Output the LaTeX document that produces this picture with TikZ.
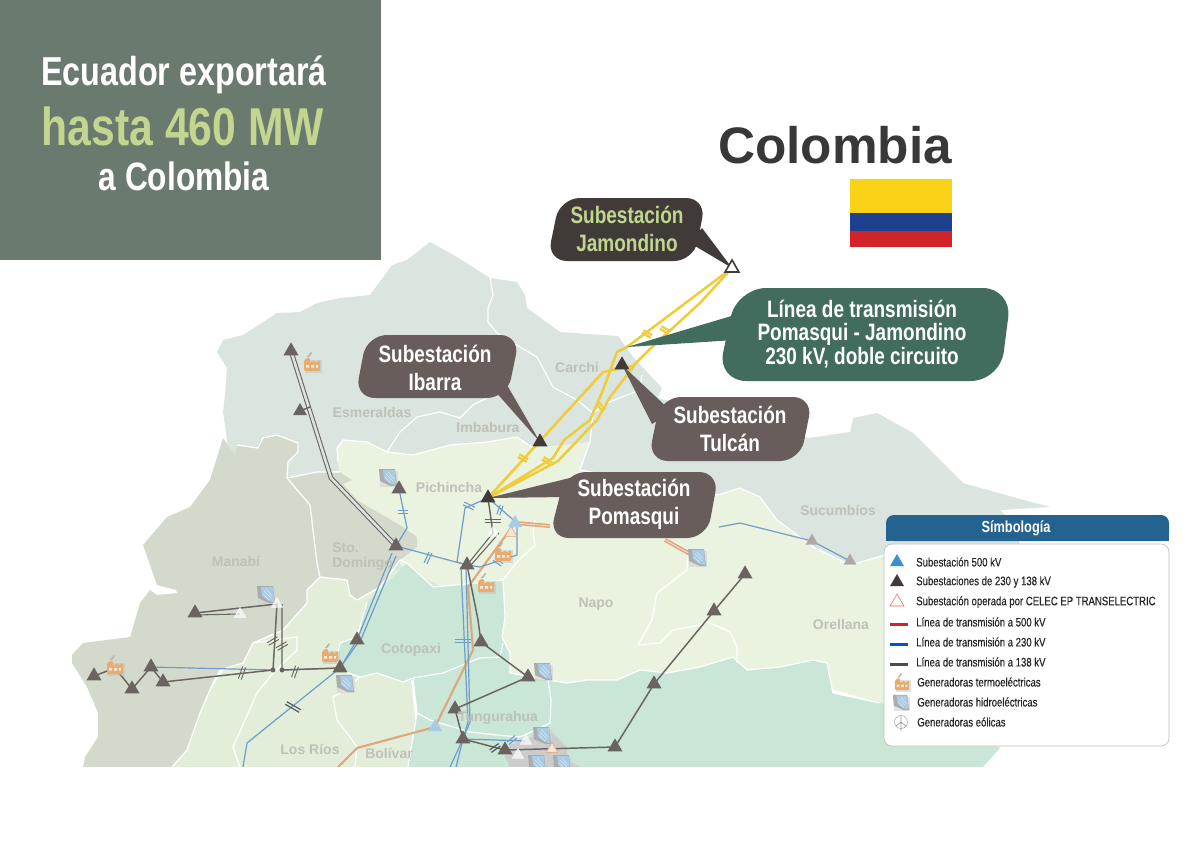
\documentclass[tikz,border=0pt]{standalone}
\usepackage{fontspec}
\usetikzlibrary{shapes.geometric,calc}
\setmainfont{Liberation Sans}
\newfontfamily\cond[FakeStretch=0.8]{Liberation Sans}
\newfontfamily\legf[FakeStretch=0.78,FakeBold=0.35]{Liberation Sans}
\pgfdeclarelayer{maplayer}\pgfdeclarelayer{linelayer}
\pgfsetlayers{maplayer,linelayer,main}
\definecolor{titlebg}{HTML}{6B7A6F}
\definecolor{titlegreen}{HTML}{C2D68F}
\definecolor{calloutgray}{HTML}{695D5B}
\definecolor{calloutdark}{HTML}{403B39}
\definecolor{calloutteal}{HTML}{416C5E}
\definecolor{northc}{HTML}{DBE5DF}
\definecolor{sierrac}{HTML}{EAF3E0}
\definecolor{tealc}{HTML}{C9E6D6}
\definecolor{manabic}{HTML}{D4DACB}
\definecolor{coastc}{HTML}{E3EEDA}
\definecolor{bluel}{HTML}{6F9CC8}
\definecolor{orangel}{HTML}{E0A67C}
\definecolor{grayl}{HTML}{6B6360}
\definecolor{yellowl}{HTML}{F0CB3A}
\definecolor{maplabel}{HTML}{BDC1B8}
\definecolor{legblue}{HTML}{24628F}
\definecolor{flagy}{HTML}{F9D117}
\definecolor{flagb}{HTML}{1F3F8F}
\definecolor{flagr}{HTML}{D2232A}
\definecolor{hydrob}{HTML}{A9CBE3}
\definecolor{thermc}{HTML}{E8AB72}
\tikzset{
  x=0.75pt,y=-0.75pt,
  tribase/.style={regular polygon,regular polygon sides=3,inner sep=0pt,minimum size=13pt},
  subgray/.style={tribase,fill=grayl},
  subdark/.style={tribase,fill=calloutdark},
  sublight/.style={tribase,minimum size=10pt,fill=white,draw=white,fill opacity=.7,draw opacity=.7},
  subpale/.style={tribase,minimum size=10pt,fill=white!70!orangel,draw=orangel},
  subblue/.style={tribase,fill=hydrob,minimum size=12pt},
  subfade/.style={tribase,fill=grayl!55,minimum size=11pt},
  maptext/.style={font=\bfseries\fontsize{10.5}{12}\selectfont,text=maplabel,inner sep=0pt},
  calltext/.style={font=\cond\bfseries\fontsize{17.8}{21}\selectfont,text=white,align=center,inner sep=0pt},
  legtext/.style={font=\legf\fontsize{9.2}{11}\selectfont,text=black!85,anchor=west,inner sep=0pt},
  border/.style={draw=white,line width=0.9pt,line join=round},
  blueline/.style={draw=bluel,line width=0.9pt,line join=round},
  grayline/.style={draw=grayl,line width=1.1pt,line join=round},
  grayd/.style={draw=grayl,line width=.8pt,line join=round},
  oline/.style={draw=orangel,line width=1.6pt,line join=round},
  yline/.style={draw=yellowl,line width=1.9pt,line join=round},
  thermal/.pic={
    \fill[black!25,opacity=.45] (-7,-2) rectangle (10,11);
    \fill[thermc,rounded corners=.8] (-8,-2) -- (-8,9) -- (8,9) -- (8,-2) -- (3,1) -- (3,-2) -- (-2,1) -- (-2,-4) -- (-6,-4) -- (-6,-2) -- cycle;
    \fill[white!75!thermc] (-6,3) rectangle (-3,5.5) (-1,3) rectangle (2,5.5) (4,3) rectangle (6,5.5);
    \fill[gray!60] (-5,-5) -- (-1,-10) -- (0,-9) -- (-3,-5) -- cycle;
  },
  hydro/.pic={
    \fill[black!18,opacity=.6] (-8,-6) rectangle (10,10);
    \fill[gray!65] (-9,-8) -- (7,-8) -- (9,9) -- (3,9) -- (-8,4) -- cycle;
    \fill[hydrob] (-5,-7) -- (7,-7) -- (8,8) -- (3,7) -- (-4,2) -- cycle;
    \draw[white!60!hydrob,line width=.35pt] (-2,-3) -- (5,4) (0,-5) -- (6,2) (-3,0) -- (3,6);
  }
}
\newcommand{\hsh}[6]{\begin{scope}[shift={(#1,#2)},rotate=#3]
  \draw[#5,line width=#6] (-#4/2,-1.5) -- (#4/2,-1.5) (-#4/2,1.5) -- (#4/2,1.5);
\end{scope}}
\begin{document}
\begin{tikzpicture}
\useasboundingbox (0,0) rectangle (1192,842);
% --- substations
\node[subgray] (a1) at (291,351) {};
\node[subgray,minimum size=12pt] (a2) at (300,411) {};
\node[subgray] (a3) at (399,489) {};
\node[subgray] (sto) at (396,546) {};
\node[subgray] (m1) at (195,613) {};
\node[subgray] (c1) at (357,640) {};
\node[subgray] (qv) at (340,668) {};
\node[subgray] (w1) at (94,676) {};
\node[subgray] (w2) at (132,689) {};
\node[subgray] (w3) at (151,667) {};
\node[subgray] (w4) at (163,682) {};
\node[subgray] (sr) at (467,565) {};
\node[subgray] (n1) at (481,642) {};
\node[subgray] (n2) at (528,677) {};
\node[subgray] (n3) at (455,709) {};
\node[subgray] (n4) at (463,739) {};
\node[subgray] (n5) at (505,750) {};
\node[subgray] (e1) at (615,747) {};
\node[subgray] (e2) at (654,684) {};
\node[subgray] (e3) at (714,611) {};
\node[subgray] (e4) at (745,574) {};
\node[subfade] (s1) at (812,541) {};
\node[subfade] (s2) at (850,561) {};
\node[sublight] (l1) at (240,614) {};
\node[sublight] (l2) at (277,604) {};
\node[sublight] (l3) at (493,533) {};
\node[subpale] (l4) at (511,533) {};
\node[sublight] (l5) at (526,741) {};
\node[sublight] (l6) at (518,755) {};
\node[subpale] (l7) at (552,749) {};
\node[subblue] (b1) at (515,523) {};
\node[subblue] (b2) at (435,727) {};
\node[subdark] (pom) at (488,498) {};
\node[subdark] (iba) at (540,442) {};
\node[subdark] (tul) at (622,365) {};
\node[tribase,draw=calloutdark,line width=1.2pt,fill=white,minimum size=12pt] (jam) at (732,268) {};
% --- free junctions
\coordinate (j1) at (273,670);
\coordinate (j2) at (282,670);
\node[circle,fill=grayl,inner sep=1.3pt] (d1) at (j1) {};
\node[circle,fill=grayl,inner sep=1.3pt] (d2) at (j2) {};
\begin{pgfonlayer}{maplayer}
  % north and Sucumbios
  \fill[northc] (217,352) -- (223,340) -- (243,335) -- (277,313) -- (300,312) -- (317,303) -- (340,298) -- (370,295) -- (392,265) -- (407,260) -- (430,242) -- (457,257) -- (490,278) -- (517,282) -- (525,295) -- (527,308) -- (560,332) -- (618,336) -- (633,357) -- (662,388) -- (658,398) -- (808,438) -- (850,432) -- (853,418) -- (877,413) -- (913,433) -- (940,460) -- (963,483) -- (1013,497) -- (1050,507) -- (1000,510) -- (1010,520) -- (1020,545) -- (1040,600) -- (850,600) -- (400,600) -- (230,470) -- (227,440) -- (223,412) -- (225,395) -- (227,368) -- cycle;
  % coast base
  \fill[coastc] (243,640) -- (320,570) -- (400,570) -- (420,767) -- (160,767) -- cycle;
  % sierra, Napo, Orellana
  \fill[sierrac] (338,462) -- (337,448) -- (343,440) -- (367,442) -- (387,452) -- (413,455) -- (450,445) -- (487,442) -- (517,437) -- (533,448) -- (590,442) -- (580,470) -- (718,495) -- (740,488) -- (760,497) -- (777,520) -- (813,547) -- (850,565) -- (885,555) -- (1040,560) -- (1060,650) -- (1000,748) -- (880,703) -- (800,680) -- (520,690) -- (470,600) -- (407,570) -- (360,530) -- (340,480) -- cycle;
  % south green
  \fill[tealc] (407,563) -- (433,587) -- (477,583) -- (503,580) -- (505,617) -- (502,637) -- (510,653) -- (510,673) -- (548,680) -- (567,683) -- (587,680) -- (617,680) -- (640,670) -- (667,673) -- (700,667) -- (733,657) -- (747,670) -- (780,667) -- (813,660) -- (827,663) -- (833,693) -- (880,703) -- (1000,748) -- (983,767) -- (408,767) -- (417,713) -- (413,680) -- (403,682) -- (377,673) -- (360,677) -- (340,670) -- (337,660) -- (340,643) -- (357,637) -- (367,602) -- (380,590) -- cycle;
  % Manabi, Sto Domingo
  \fill[manabic] (223,438) -- (235,455) -- (237,445) -- (258,448) -- (263,438) -- (277,435) -- (298,443) -- (298,452) -- (288,462) -- (287,478) -- (317,472) -- (340,472) -- (352,480) -- (343,484) -- (357,500) -- (403,527) -- (417,537) -- (417,547) -- (400,560) -- (380,587) -- (357,600) -- (350,595) -- (347,580) -- (320,577) -- (307,590) -- (307,603) -- (283,630) -- (253,643) -- (243,663) -- (220,670) -- (213,683) -- (200,713) -- (187,750) -- (172,767) -- (83,767) -- (85,757) -- (98,737) -- (98,713) -- (87,687) -- (72,663) -- (72,655) -- (83,643) -- (130,637) -- (140,603) -- (150,590) -- (157,595) -- (177,593) -- (176,590) -- (157,585) -- (143,545) -- (167,517) -- (190,507) -- (210,480) -- cycle;
  % grey patch
  \fill[black!20] (505,757) -- (510,745) -- (543,733) -- (553,733) -- (567,747) -- (567,760) -- (580,767) -- (510,767) -- cycle;
  % white province borders
  \draw[border] (338,462) -- (337,448) -- (343,440) -- (367,442) -- (387,452) -- (413,455) -- (450,445) -- (487,442) -- (517,437) -- (533,448);
  \draw[border] (387,452) -- (400,432) -- (417,417) -- (440,412) -- (460,418) -- (473,405) -- (487,398);
  \draw[border] (490,278) -- (493,295) -- (488,308) -- (488,322) -- (497,333) -- (520,347) -- (537,357) -- (553,387) -- (577,400) -- (593,413) -- (607,403) -- (640,390) -- (642,375);
  \draw[border] (593,413) -- (590,442) -- (580,470);
  \draw[border] (237,445) -- (258,448) -- (263,438) -- (277,435) -- (298,443) -- (298,452) -- (288,462) -- (287,478) -- (317,472) -- (340,472);
  \draw[border] (287,478) -- (310,505) -- (317,563) -- (320,577) -- (347,580) -- (350,595) -- (357,600) -- (380,587) -- (400,560) -- (407,563) -- (433,587) -- (477,583) -- (503,580) -- (505,617) -- (502,637) -- (510,653) -- (510,673) -- (548,680) -- (567,683) -- (587,680) -- (617,680) -- (640,670) -- (667,673) -- (700,667) -- (733,657) -- (747,670) -- (780,667) -- (813,660) -- (827,663) -- (833,693) -- (880,703);
  \draw[border] (320,577) -- (307,590) -- (307,603) -- (283,630) -- (253,643) -- (243,663) -- (220,670) -- (213,683) -- (200,713) -- (187,750) -- (172,767);
  \draw[border] (253,643) -- (297,637) -- (297,650) -- (273,673) -- (257,693) -- (233,747) -- (240,767);
  \draw[border] (367,602) -- (357,637) -- (340,643) -- (337,660) -- (340,670) -- (360,677) -- (377,673) -- (403,682) -- (413,678) -- (443,673) -- (467,663) -- (480,658) -- (500,657) -- (503,643);
  \draw[border] (413,678) -- (417,713) -- (408,767);
  \draw[border] (340,693) -- (360,677) (340,693) -- (333,697) -- (337,720) -- (350,737) -- (357,747) -- (355,767);
  \draw[border] (417,713) -- (430,720) -- (470,732) -- (497,735) -- (520,737) -- (540,728) -- (550,723) -- (551,700) -- (548,680);
  \draw[border] (688,550) -- (687,570) -- (657,593) -- (652,620) -- (638,645) -- (660,643) -- (673,630) -- (700,625) -- (708,622) -- (730,632) -- (737,647) -- (737,663);
  \draw[border] (580,470) -- (718,495) -- (740,488) -- (760,497) -- (777,520) -- (813,547) -- (850,565) -- (885,555);
  \draw[border] (535,520) -- (533,532) -- (535,545) -- (517,562) -- (503,580);
\end{pgfonlayer}
\begin{pgfonlayer}{linelayer}
  % orange 500 kV
  \draw[oline] (338,767) -- (357,748) -- (b2.center) -- (473,650) -- (468,587) -- (b1.center);
  \draw[oline,line width=3pt] (b1.center) -- (550,526);
  \draw[white!60!orangel,line width=.7pt] (b1.center) -- (550,526);
  \draw[oline,line width=3pt] (665,540) -- (692,555);
  \draw[white!60!orangel,line width=.7pt] (665,540) -- (692,555);
  % blue 230 kV
  \draw[blueline] (a3.center) -- (407,528) -- (sto.center);
  \draw[blueline] (sto.center) -- (sr.center);
  \draw[blueline] (392,553) -- (c1.center) -- (qv.center);
  \draw[blueline] (396,556) -- (362,637) -- (qv.center);
  \draw[blueline] (qv.center) -- (247,743) -- (243,767);
  \draw[blueline] (w3.center) -- (j1);
  \draw[blueline] (j2) -- (qv.center);
  \draw[blueline] (pom.center) -- (465,508) -- (457,562) -- (sr.center);
  \draw[blueline] (pom.center) -- (517,523) -- (517,555) -- (480,567) -- (sr.center);
  \draw[blueline] (461,567) -- (468,722) -- (n4.center) -- (450,767);
  \draw[blueline] (466,567) -- (470,722) -- (n4.center) -- (456,767);
  \draw[blueline] (n4.center) -- (l5.center);
  \draw[blueline] (719,527) -- (740,523) -- (s1.center) -- (s2.center);
  % gray 138 kV
  \draw[grayd,double=northc,double distance=1.9pt] (a1.center) -- (331,478) -- (sto.center);
  \draw[grayline] (a2.center) -- (310,407);
  \draw[grayline] (m1.center) -- (l2.center) -- (j1) -- (w4.center);
  \draw[grayline,line width=.8pt] (m1.center) ++(0,2) -- (l1.center);
  \draw[grayline] (l2.center) ++(5,0) -- (j2) -- (qv.center);
  \draw[grayline] (w1.center) -- (115,668) -- (w2.center) -- (w3.center) -- (w4.center);
  \draw[grayline] (pom.center) -- (l3.center);
  \draw[grayline,line width=.8pt] (l3.center) -- (sr.center);
  \draw[grayline,line width=.8pt] (499,533) -- (471,565);
  \draw[grayline] (sr.center) -- (478,620) -- (n1.center) -- (n2.center) -- (n3.center) -- (n4.center) -- (n5.center);
  \draw[grayline] (n5.center) -- (e1.center) -- (e2.center) -- (e3.center) -- (e4.center);
  % yellow 230 kV link
  \draw[yline] (pom.center) -- (603,372) -- (633,366) -- (652,347) -- (700,303) -- (jam.center);
  \draw[yline] (pom.center) -- (553,458) -- (564,440) -- (590,420) -- (603,390) -- (617,352) -- (627,347) -- (jam.center);
  \draw[yline] (pom.center) -- (558,461) -- (597,420) -- (610,397) -- (634,366);
  % hash marks
  \hsh{273}{641}{30}{12}{grayl}{.7pt}
  \hsh{282}{646}{30}{12}{grayl}{.7pt}
  \hsh{242}{673}{70}{13}{grayl}{.7pt}
  \hsh{295}{672}{70}{12}{grayl}{.7pt}
  \hsh{293}{707}{-30}{16}{black!65}{.9pt}
  \hsh{428}{558}{65}{12}{bluel}{.8pt}
  \hsh{403}{512}{0}{10}{bluel}{.8pt}
  \hsh{469}{506}{-25}{12}{bluel}{.8pt}
  \hsh{500}{510}{70}{10}{bluel}{.8pt}
  \hsh{493}{521}{0}{16}{grayl}{.8pt}
  \hsh{498}{562}{-35}{10}{bluel}{.8pt}
  \hsh{463}{641}{0}{16}{bluel}{.8pt}
  \hsh{495}{748}{35}{11}{black!65}{.9pt}
  \hsh{512}{740}{40}{10}{bluel}{.8pt}
  \hsh{523}{458}{-30}{10}{yellowl}{1.6pt}
  \hsh{547}{461}{-35}{10}{yellowl}{1.6pt}
  \hsh{601}{407}{-50}{10}{yellowl}{1.6pt}
  \hsh{647}{334}{-30}{10}{yellowl}{1.6pt}
  \hsh{665}{330}{-30}{10}{yellowl}{1.6pt}
  % generators
  \pic at (312,362) {thermal};
  \pic at (115,665) {thermal};
  \pic at (330,653) {thermal};
  \pic at (503,552) {thermal};
  \pic at (486,583) {thermal};
  \pic at (388,477) {hydro};
  \pic at (266,594) {hydro};
  \pic at (345,683) {hydro};
  \pic at (543,671) {hydro};
  \pic at (697,557) {hydro};
  \pic at (542,735) {hydro};
  \pic at (537,763) {hydro};
  \pic at (562,763) {hydro};
  \fill[white] (0,767) rectangle (1192,842);
  % callout tails (under the substation triangles)
  \fill[calloutdark] (690,243) -- (jam.center) -- (702,228) -- cycle;
  \fill[calloutgray] (494,390) -- (iba.center) -- (507,385) -- cycle;
  \fill[calloutgray] (652,424) -- (tul.center) -- (672,412) -- cycle;
  \fill[calloutgray] (578,476) -- (pom.center) -- (566,497) -- cycle;
  \coordinate (tealtip) at (627,347);
  \fill[calloutteal] (745,312) -- (tealtip) -- (735,340) -- cycle;
\end{pgfonlayer}
% --- province names
\node[maptext] (tesm) at (372,412) {Esmeraldas};
\node[maptext] (timb) at (488,427) {Imbabura};
\node[maptext] (tcar) at (577,367) {Carchi};
\node[maptext] (tpic) at (449,487) {Pichincha};
\node[maptext] (tman) at (236,561) {Manabí};
\node[maptext,anchor=west] (tsto) at (332,548) {Sto.};
\node[maptext,anchor=west] (tdom) at (332,564) {Domingo};
\node[maptext] (tcot) at (411,650) {Cotopaxi};
\node[maptext] (trio) at (310,749) {Los Ríos};
\node[maptext] (tbol) at (389,753) {Bolívar};
\node[maptext] (ttun) at (498,718) {Tungurahua};
\node[maptext] (tnap) at (596,604) {Napo};
\node[maptext] (tore) at (841,624) {Orellana};
\node[maptext] (tsuc) at (838,510) {Sucumbíos};
% --- title
\fill[titlebg] (0,0) rectangle (381,260);
\node[font=\cond\bfseries\fontsize{30.3}{34}\selectfont,text=white,inner sep=0pt] (t1) at (184,75) {Ecuador exportará};
\node[font=\cond\bfseries\fontsize{40}{44}\selectfont,text=titlegreen,inner sep=0pt] (t2) at (183,126) {hasta 460 MW};
\node[font=\cond\bfseries\fontsize{29.7}{34}\selectfont,text=white,inner sep=0pt] (t3) at (184,176) {a Colombia};
% --- Colombia
\node[font=\bfseries\fontsize{38.5}{44}\selectfont,text=black!78,inner sep=0pt] (col) at (835,145) {Colombia};
\fill[flagy] (850,179) rectangle (952,213);
\fill[flagb] (850,213) rectangle (952,231);
\fill[flagr] (850,231) rectangle (952,247);
% --- callouts
\fill[calloutdark,rounded corners=15] (560,198) -- (706,198) -- (694,261) -- (547,261) -- cycle;
\node[calltext,text=titlegreen] (cjam) at (627,229) {Subestación\\Jamondino};
\fill[calloutgray,rounded corners=15] (367,335) -- (520,335) -- (507,398) -- (355,398) -- cycle;
\node[calltext] (ciba) at (435,368) {Subestación\\Ibarra};
\fill[calloutgray,rounded corners=15] (661,397) -- (813,397) -- (800,461) -- (648,461) -- cycle;
\node[calltext] (ctul) at (730,429) {Subestación\\Tulcán};
\fill[calloutgray,rounded corners=15] (566,472) -- (719,472) -- (707,538) -- (549,538) -- cycle;
\node[calltext] (cpom) at (634,504) {Subestación\\Pomasqui};
\fill[calloutteal,rounded corners=22] (737,288) -- (1012,288) -- (1000,381) -- (717,381) -- cycle;
\node[calltext,font=\cond\bfseries\fontsize{17.8}{17.8}\selectfont] (clin) at (862,334) {Línea de transmisión\\Pomasqui - Jamondino\\230 kV, doble circuito};
% --- legend
\fill[legblue,rounded corners=6] (886,541) -- (886,515) -- (1169,515) -- (1169,541) -- cycle;
\fill[legblue] (886,530) rectangle (1169,541);
\node[font=\cond\bfseries\fontsize{12}{14}\selectfont,text=white,inner sep=0pt] (lhead) at (1016,528) {Símbología};
\draw[black!25,fill=white,line width=.5pt,rounded corners=6] (884,544) rectangle (1169,746);
\node[tribase,fill=cyan!60!blue!80,minimum size=12pt] (ls1) at (897,562) {};
\node[tribase,fill=calloutdark,minimum size=12pt] (ls2) at (897,582) {};
\node[tribase,draw=orangel!60!red,fill=white,line width=.4pt,minimum size=12pt] (ls3) at (897,602) {};
\fill[flagr] (890,623) rectangle (908,626);
\fill[blue!60!cyan!80!black] (890,643) rectangle (908,646);
\fill[black!70] (890,663) rectangle (908,666);
\pic[scale=.9] at (902,682) {thermal};
\pic[scale=.9] at (901,702) {hydro};
\draw[gray!70,fill=white,line width=.4pt] (901,722) circle (6.5);
\draw[gray!80,line width=.5pt] (901,716) -- (901,731) (896,726) -- (901,722) -- (906,726);
\node[legtext] (lt1) at (916,562) {Subestación 500 kV};
\node[legtext] (lt2) at (916,582) {Subestaciones de 230 y 138 kV};
\node[legtext] (lt3) at (916,602) {Subestación operada por CELEC EP TRANSELECTRIC};
\node[legtext] (lt4) at (916,622) {Línea de transmisión a 500 kV};
\node[legtext] (lt5) at (916,642) {Línea de transmisión a 230 kV};
\node[legtext] (lt6) at (916,662) {Línea de transmisión a 138 kV};
\node[legtext] (lt7) at (917,682) {Generadoras termoeléctricas};
\node[legtext] (lt8) at (917,702) {Generadoras hidroeléctricas};
\node[legtext] (lt9) at (917,722) {Generadoras eólicas};
\end{tikzpicture}
\end{document}
